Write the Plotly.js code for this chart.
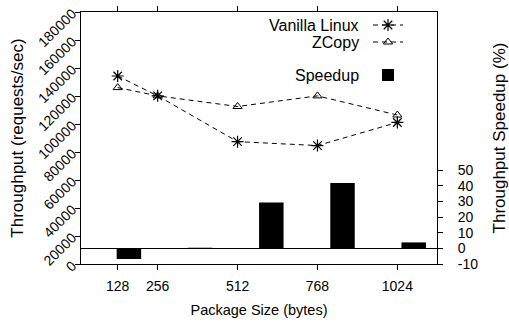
<!DOCTYPE html>
<html>
<head>
<meta charset="utf-8">
<script src="https://cdn.plot.ly/plotly-3.0.1.min.js"></script>
<style>html,body{margin:0;padding:0;background:#fff;}#chart{width:509px;height:322px;}</style>
</head>
<body>
<div id="chart"></div>
<script>
// Data
const packageSizes = [128, 256, 512, 768, 1024];
const vanillaLinux = [134300, 120100, 87400, 84600, 101100];
const zcopy = [126000, 120100, 112500, 120100, 106400];
const speedup = [-6.8, 0.4, 29.3, 41.8, 3.8];
const seriesNames = ['Vanilla Linux', 'ZCopy', 'Speedup'];
const leftTicks = [0, 20000, 40000, 60000, 80000, 100000, 120000, 140000, 160000, 180000];
const rightTicks = [-10, 0, 10, 20, 30, 40, 50];

const FONT = 'Liberation Sans, Arial, Helvetica, sans-serif';

const traces = [
  {
    type: 'bar', name: ' ', x: packageSizes.map(String), y: speedup,
    xaxis: 'x2', yaxis: 'y2', width: 0.344,
    marker: {color: '#000000', line: {width: 0}},
    legend: 'legend3', showlegend: true
  },
  {
    type: 'scatter', mode: 'lines+markers', name: ' ', x: packageSizes, y: vanillaLinux,
    line: {color: '#000000', width: 1, dash: '5px,4px'},
    marker: {symbol: 'asterisk-open', size: 10, color: '#000000', line: {color: '#000000', width: 1.2}},
    legend: 'legend'
  },
  {
    type: 'scatter', mode: 'lines+markers', name: ' ', x: packageSizes, y: zcopy,
    line: {color: '#000000', width: 1, dash: '5px,4px'},
    marker: {symbol: 'triangle-up-open', size: 8, color: '#000000', line: {color: '#000000', width: 1}},
    legend: 'legend2'
  }
];

const L = 81, R = 437, T = 11, B = 264;
const px = v => (v - L) / (R - L);
const py = v => (B - v) / (B - T);

const legendBase = {xanchor: 'left', yanchor: 'middle', bgcolor: 'rgba(0,0,0,0)', borderwidth: 0, font: {size: 9}, itemwidth: 30};

const layout = {
  width: 509, height: 322,
  margin: {l: L, r: 509 - R, t: T, b: 322 - B, pad: 0},
  paper_bgcolor: '#ffffff', plot_bgcolor: '#ffffff',
  font: {family: FONT, size: 14, color: '#000000'},
  showlegend: true,
  xaxis: {
    type: 'linear', range: [10.4, 1151], tickvals: packageSizes, ticktext: packageSizes.map(String),
    showgrid: false, zeroline: false, showline: true, linecolor: '#000000', linewidth: 1,
    mirror: 'ticks', ticks: 'outside', ticklen: 5, tickcolor: '#000000',
    ticklabelstandoff: 4,
    title: {text: 'Package Size (bytes)', font: {size: 14.5}, standoff: 12},
    automargin: false
  },
  xaxis2: {
    type: 'category', overlaying: 'x', range: [-0.673, 4.327], visible: false, showgrid: false
  },
  yaxis: {
    range: [0, 180000], tickvals: leftTicks, ticktext: leftTicks.map(String), tickangle: -45,
    showgrid: false, zeroline: false, showline: true, linecolor: '#000000', linewidth: 1,
    mirror: true, ticks: 'outside', ticklen: 5, tickcolor: '#000000',
    title: {text: 'Throughput (requests/sec)', font: {size: 17}, standoff: 6},
    automargin: false
  },
  yaxis2: {
    overlaying: 'y', side: 'right', range: [-10, 151], tickvals: rightTicks, ticktext: rightTicks.map(String),
    showgrid: false, showline: false, zeroline: true, zerolinecolor: '#000000', zerolinewidth: 1,
    ticks: 'outside', ticklen: 5, tickcolor: '#000000', ticklabelstandoff: 12,
    title: {text: 'Throughput Speedup (%)', font: {size: 17}, standoff: 22},
    automargin: false
  },
  legend: Object.assign({x: px(368), y: py(25)}, legendBase),
  legend2: Object.assign({x: px(368), y: py(42)}, legendBase),
  legend3: Object.assign({x: px(368), y: py(75)}, legendBase),
  annotations: [
    {text: seriesNames[0], xref: 'paper', yref: 'paper', x: px(361), y: py(25), xanchor: 'right', yanchor: 'middle', showarrow: false, font: {size: 16}},
    {text: seriesNames[1], xref: 'paper', yref: 'paper', x: px(361), y: py(42), xanchor: 'right', yanchor: 'middle', showarrow: false, font: {size: 16}},
    {text: seriesNames[2], xref: 'paper', yref: 'paper', x: px(361), y: py(75), xanchor: 'right', yanchor: 'middle', showarrow: false, font: {size: 16}}
  ]
};

Plotly.newPlot('chart', traces, layout, {staticPlot: true, displayModeBar: false});
</script>
</body>
</html>
